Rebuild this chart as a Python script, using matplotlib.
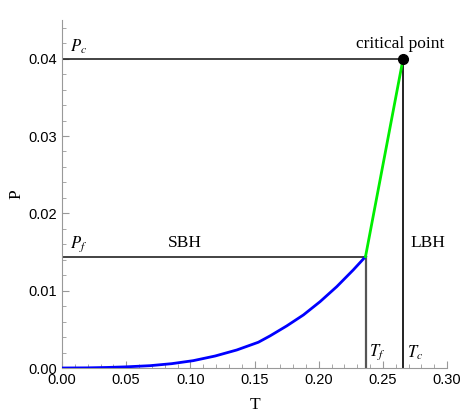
import numpy as np
import matplotlib.pyplot as plt
from matplotlib.ticker import MultipleLocator

# coexistence curve (small/large black hole)
T_coex = [0.0, 0.02, 0.035, 0.05, 0.0686, 0.0855, 0.1023, 0.1193, 0.1362, 0.153,
          0.1621, 0.1751, 0.1881, 0.2011, 0.2141, 0.2270, 0.2365]
P_coex = [0.0, 0.00002, 0.00007, 0.00015, 0.0003, 0.00056, 0.00095, 0.00155, 0.00233, 0.00333,
          0.00415, 0.00544, 0.00686, 0.00858, 0.01052, 0.01269, 0.0144]

Tf, Pf = 0.2365, 0.0144
Tc, Pc = 0.2658, 0.0400

plt.rcParams['font.family'] = ['Liberation Sans', 'DejaVu Sans']
plt.rcParams['mathtext.fontset'] = 'stix'

fig = plt.figure(figsize=(4.63, 4.18), dpi=100)
ax = fig.add_axes([62/463, 50/418, 385/463, 348/418])

ax.plot(T_coex, P_coex, color='#0000ff', lw=2, zorder=3, solid_joinstyle='round')
ax.plot([Tf, Tc], [Pf, Pc], color='#00ee00', lw=2, zorder=3)
ax.plot([0, Tc], [Pc, Pc], color='#222222', lw=1.2)
ax.plot([0, Tf], [Pf, Pf], color='#222222', lw=1.2)
ax.plot([Tf, Tf], [0, Pf], color='#555555', lw=1.6)
ax.plot([Tc, Tc], [0, Pc], color='#111111', lw=1.3)
ax.plot([Tc], [Pc], 'o', color='black', ms=7, zorder=4)

serif = 'Liberation Serif'
ax.text(0.006, Pc + 0.0004, r'$P_c$', fontsize=12, va='bottom')
ax.text(0.006, Pf + 0.0003, r'$P_f$', fontsize=12, va='bottom')
ax.text(Tf + 0.003, 0.0008, r'$T_f$', fontsize=12, va='bottom')
ax.text(Tc + 0.003, 0.0008, r'$T_c$', fontsize=12, va='bottom')
ax.text(0.2638, 0.0409, 'critical point', family=serif, fontsize=12.5, ha='center', va='bottom')
ax.text(0.096, 0.0162, 'SBH', family=serif, fontsize=12.5, ha='center', va='center')
ax.text(0.285, 0.0162, 'LBH', family=serif, fontsize=12.5, ha='center', va='center')

ax.set_xlim(0, 0.30)
ax.set_ylim(0, 0.045)
ax.set_xticks(np.arange(0, 0.31, 0.05))
ax.set_yticks(np.arange(0, 0.041, 0.01))
ax.xaxis.set_minor_locator(MultipleLocator(0.01))
ax.yaxis.set_minor_locator(MultipleLocator(0.002))
ax.set_xticklabels(['%.2f' % v for v in np.arange(0, 0.31, 0.05)])
ax.set_yticklabels(['%.2f' % v for v in np.arange(0, 0.041, 0.01)])
ax.tick_params(which='both', direction='in', color='#999999', labelsize=10.5)
ax.tick_params(which='major', length=5)
ax.tick_params(which='minor', length=3)
for s in ['top', 'right']:
    ax.spines[s].set_visible(False)
for s in ['left', 'bottom']:
    ax.spines[s].set_color('#999999')

ax.set_xlabel('T', family=serif, fontsize=12.5, labelpad=7)
ax.set_ylabel('P', family=serif, fontsize=12.5, labelpad=3)

fig.savefig('out.png', dpi=100)
